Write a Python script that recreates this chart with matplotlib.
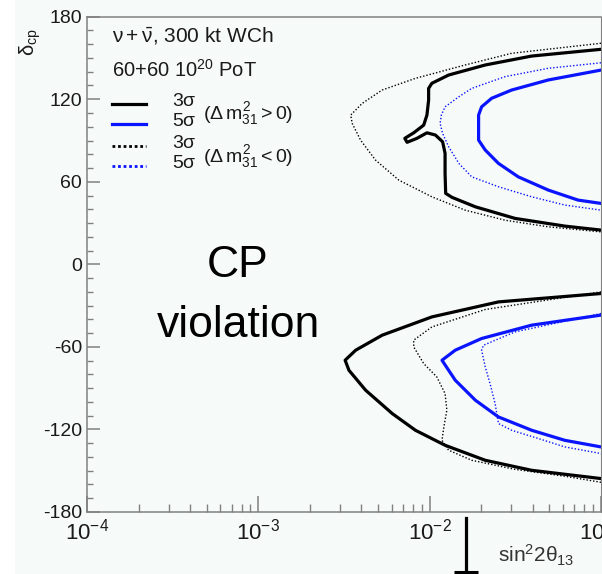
import matplotlib
matplotlib.use("Agg")
import matplotlib.pyplot as plt
import matplotlib.transforms as mtransforms
from matplotlib.lines import Line2D
from matplotlib.patches import Rectangle
from matplotlib.ticker import MultipleLocator, LogLocator, NullFormatter

plt.rcParams["font.family"] = ["Liberation Sans", "DejaVu Sans"]
plt.rcParams["mathtext.fontset"] = "custom"
plt.rcParams["mathtext.rm"] = "Liberation Sans"
plt.rcParams["mathtext.it"] = "Liberation Sans"
plt.rcParams["mathtext.bf"] = "Liberation Sans:bold"
plt.rcParams["axes.unicode_minus"] = False

# --- contours: sin^2 2theta13 vs delta_cp (deg) ---
# upper lobe (delta > 0)
up_nh3_s = [0.100, 0.0394, 0.0211, 0.0129, 0.0103, 0.00986, 0.00986, 0.00964, 0.00923, 0.00807,
            0.00716, 0.00738, 0.00843, 0.00964, 0.0108, 0.0119, 0.0123, 0.0123, 0.0124, 0.0135,
            0.0185, 0.0315, 0.0615, 0.100]
up_nh3_d = [156.3, 151.4, 144.9, 137.6, 131.6, 127.9, 119.4, 108.5, 101.2, 95.6,
            91.6, 88.7, 91.6, 95.6, 94.0, 89.1, 80.7, 66.1, 51.6, 48.7,
            41.8, 33.4, 27.8, 24.9]

up_ih3_s = [0.100, 0.0301, 0.0161, 0.00826, 0.00528, 0.00404, 0.00346, 0.00353, 0.00395, 0.00483,
            0.00661, 0.0103, 0.0161, 0.0275, 0.0492, 0.100]
up_ih3_d = [160.7, 153.4, 144.9, 135.2, 126.7, 117.0, 108.5, 102.5, 90.3, 75.8,
            61.2, 49.1, 39.4, 32.1, 27.3, 23.6]

up_nh5_s = [0.100, 0.0492, 0.0301, 0.0230, 0.0201, 0.0193, 0.0193, 0.0211, 0.0252, 0.0329,
            0.0492, 0.0735, 0.100]
up_nh5_d = [141.2, 134.0, 126.7, 120.7, 114.5, 108.5, 90.3, 83.1, 73.4, 63.6,
            54.0, 46.7, 44.3]

up_ih5_s = [0.100, 0.0492, 0.0275, 0.0176, 0.0148, 0.0123, 0.0117, 0.0115, 0.0119, 0.0129,
            0.0148, 0.0176, 0.0252, 0.0394, 0.0615, 0.100]
up_ih5_d = [146.5, 142.5, 136.4, 127.9, 121.8, 114.5, 108.5, 102.5, 95.2, 85.5,
            73.4, 63.6, 56.4, 49.1, 43.1, 39.4]

# lower lobe (delta < 0)
lo_nh3_s = [0.100, 0.0252, 0.0103, 0.00528, 0.00370, 0.00321, 0.00338, 0.00423, 0.00604, 0.00826,
            0.0123, 0.0211, 0.0394, 0.100]
lo_nh3_d = [-21.2, -27.3, -38.2, -51.5, -62.4, -69.7, -77.0, -91.5, -108.4, -120.6,
            -131.5, -142.4, -149.7, -155.7]

lo_ih3_s = [0.100, 0.0211, 0.0103, 0.00807, 0.00807, 0.00923, 0.0110, 0.0123, 0.0126, 0.0121,
            0.0118, 0.0129, 0.0176, 0.0315, 0.0615, 0.100]
lo_ih3_d = [-20.0, -32.8, -45.5, -55.1, -60.0, -72.1, -81.8, -93.9, -106.0, -118.2,
            -127.9, -135.1, -142.4, -149.0, -154.0, -158.4]

lo_nh5_s = [0.100, 0.0394, 0.0201, 0.0141, 0.0118, 0.0141, 0.0185, 0.0252, 0.0394, 0.0615, 0.100]
lo_nh5_d = [-36.9, -44.2, -53.9, -62.4, -69.7, -84.2, -98.8, -110.9, -120.6, -127.9, -132.7]

lo_ih5_s = [0.100, 0.0315, 0.0206, 0.0201, 0.0211, 0.0225, 0.0241, 0.0252, 0.0301, 0.0431,
            0.0615, 0.100]
lo_ih5_d = [-35.7, -49.1, -58.8, -62.4, -74.5, -86.6, -101.2, -115.7, -120.6, -126.6,
            -132.7, -137.5]

marker_s = 0.0163   # arrow under the x axis

W, H = 602, 574
def fx(px):
    return px / W
def fy(py):
    return 1 - py / H

BG = "#f6faf8"
AXC = "#808080"
TXT = "#1a1a1a"
BLUE = "#0a14ff"
SOLID = dict(lw=2.3, solid_joinstyle="round")
DOT = dict(lw=1.0, linestyle=(0, (1, 1.4)))

fig = plt.figure(figsize=(W / 100, H / 100), dpi=100, facecolor="white")
fig.add_artist(Rectangle((fx(15), 0), 1 - fx(15), 1, transform=fig.transFigure,
                         facecolor=BG, edgecolor="none", zorder=-10))

ax = fig.add_axes([fx(87), fy(512), fx(601) - fx(87), fy(16.7) - fy(512)])
ax.set_facecolor(BG)
ax.set_xscale("log")
ax.set_xlim(1e-4, 1e-1)
ax.set_ylim(-180, 180)

ax.plot(up_nh3_s, up_nh3_d, color="black", **SOLID)
ax.plot(up_ih3_s, up_ih3_d, color="black", **DOT)
ax.plot(up_nh5_s, up_nh5_d, color=BLUE, **SOLID)
ax.plot(up_ih5_s, up_ih5_d, color=BLUE, **DOT)
ax.plot(lo_nh3_s, lo_nh3_d, color="black", **SOLID)
ax.plot(lo_ih3_s, lo_ih3_d, color="black", **DOT)
ax.plot(lo_nh5_s, lo_nh5_d, color=BLUE, **SOLID)
ax.plot(lo_ih5_s, lo_ih5_d, color=BLUE, **DOT)

for sp in ax.spines.values():
    sp.set_color(AXC)
    sp.set_linewidth(1.1)
ax.spines["right"].set_linewidth(0.8)

ax.yaxis.set_major_locator(MultipleLocator(60))
ax.yaxis.set_minor_locator(MultipleLocator(10))
ax.xaxis.set_major_locator(LogLocator(base=10))
ax.xaxis.set_minor_locator(LogLocator(base=10, subs=range(2, 10)))
ax.xaxis.set_minor_formatter(NullFormatter())

ax.tick_params(axis="y", which="major", direction="in", length=9.4, width=1.1, color=AXC,
               labelsize=14, pad=3.6, labelcolor=TXT, right=False)
ax.tick_params(axis="y", which="minor", direction="in", length=4.3, width=1.0, color=AXC, right=False)
ax.tick_params(axis="x", which="major", direction="in", length=11.5, width=1.1, color=AXC,
               labelsize=16, pad=5, labelcolor=TXT, top=False)
ax.tick_params(axis="x", which="minor", direction="in", length=5.8, width=1.0, color=AXC, top=False)

# axis titles
fig.text(fx(30), fy(42), r"$\delta_{cp}$", rotation=90, ha="center", va="center",
         fontsize=14.5, color=TXT)
fig.text(fx(498), fy(563), r"sin$^{2}$2$\theta_{13}$", ha="left", va="baseline",
         fontsize=15, color="#333333")

# arrow marking sin^2 2theta13 below the axis
trans = mtransforms.blended_transform_factory(ax.transData, fig.transFigure)
fig.add_artist(Line2D([marker_s, marker_s], [fy(518), fy(573)], transform=trans,
                      color="black", lw=2.3))
fig.add_artist(Line2D([marker_s], [fy(572)], transform=trans, color="black",
                      marker="_", markersize=17, markeredgewidth=2.2, linestyle="none"))

# legend block
fig.text(fx(112), fy(36), r"$\nu + \bar{\nu}$, 300 kt WCh", ha="left", va="center",
         fontsize=15, color=TXT)
fig.text(fx(112), fy(70), r"60+60 10$^{20}$ PoT", ha="left", va="center",
         fontsize=14.5, color=TXT)

leg_rows = [
    (104, "black", SOLID, "3σ"),
    (124, BLUE, SOLID, "5σ"),
    (146, "black", dict(lw=2.0, linestyle=(0, (1, 1))), "3σ"),
    (166, BLUE, dict(lw=2.0, linestyle=(0, (1, 1))), "5σ"),
]
for py, col, sty, lab in leg_rows:
    fig.add_artist(Line2D([fx(112), fx(146)], [fy(py), fy(py)], color=col, **sty))
    fig.text(fx(172), fy(py - 2), lab, ha="left", va="center", fontsize=14, color=TXT)
fig.text(fx(203), fy(114), r"$(\Delta\, m^{2}_{31} > 0)$", ha="left", va="center",
         fontsize=14, color=TXT)
fig.text(fx(203), fy(157), r"$(\Delta\, m^{2}_{31} < 0)$", ha="left", va="center",
         fontsize=14, color=TXT)

# big annotation
fig.text(fx(238), fy(276.7), "CP", ha="center", va="baseline", fontsize=32, color="black")
fig.text(fx(238), fy(336.7), "violation", ha="center", va="baseline", fontsize=32, color="black")

fig.savefig("out.png", dpi=100, facecolor=fig.get_facecolor())
